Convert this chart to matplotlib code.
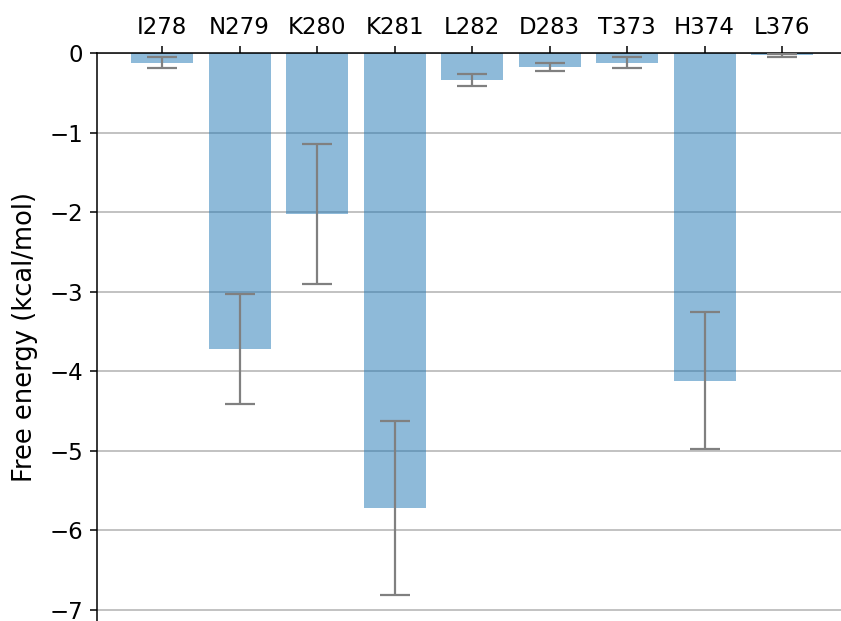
import matplotlib
matplotlib.use("Agg")
import matplotlib.pyplot as plt
import numpy as np

residues = ["I278", "N279", "K280", "K281", "L282", "D283", "T373", "H374", "L376"]
energy = [-0.12, -3.72, -2.03, -5.72, -0.34, -0.17, -0.12, -4.12, -0.03]
errors = [0.065, 0.69, 0.88, 1.09, 0.07, 0.05, 0.065, 0.86, 0.02]

fig = plt.figure(figsize=(8.41, 6.21), dpi=100)
ax = fig.add_axes([97/841, 0.0, 1 - 97/841, 1 - 53/621])

x = np.arange(len(residues))
ax.bar(x, energy, width=0.8, color="#1f77b4", alpha=0.5, zorder=2)
ax.errorbar(x, energy, yerr=errors, fmt="none", ecolor="#808080",
            elinewidth=1.6, capsize=11, capthick=1.6, zorder=3)

ax.set_xlim(-0.84, 8.76)
ax.set_ylim(-7.14, 0)
ax.set_xticks(x)
ax.set_xticklabels(residues)
ax.xaxis.tick_top()
ax.tick_params(axis="both", labelsize=16.5, length=5, width=1.1, pad=5)
ax.set_yticks([0, -1, -2, -3, -4, -5, -6, -7])
ax.yaxis.grid(True, color="#b8b8b8", linewidth=1.2, zorder=0)
ax.set_axisbelow(True)
ax.set_ylabel("Free energy (kcal/mol)", fontsize=18.5, labelpad=8)
ax.spines["right"].set_visible(False)
ax.spines["bottom"].set_visible(False)
for s in ("left", "top"):
    ax.spines[s].set_linewidth(1.1)

fig.savefig("out.png", dpi=100)
